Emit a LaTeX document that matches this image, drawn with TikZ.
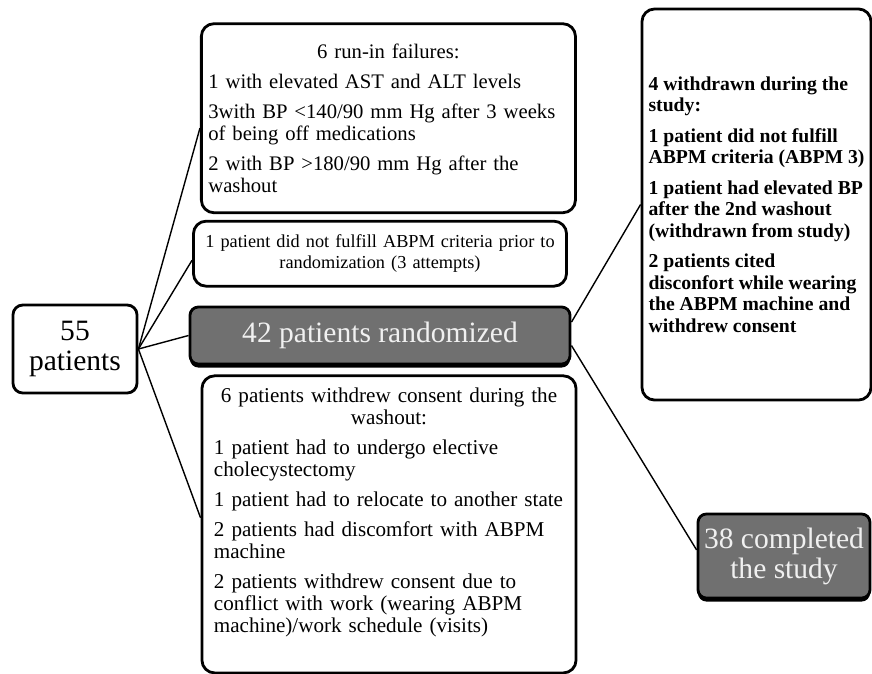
\documentclass[tikz,border=0pt]{standalone}
\usepackage{fontspec}
\setmainfont{Liberation Serif}
\usepackage{xcolor}
\usepackage{tikz}
\usetikzlibrary{positioning, shadows}
\definecolor{boxgrey}{RGB}{112,112,112}
\definecolor{paletext}{RGB}{240,240,240}
\tikzstyle{outline} = [rectangle, rounded corners=9pt, draw=black, line width=2pt, fill=white, inner xsep=0.15cm]
\tikzstyle{listbox} = [outline, align=left, font=\fontsize{15}{15.5}\selectfont]
\tikzstyle{boldbox} = [outline, align=left, font=\fontsize{14}{15.3}\selectfont\bfseries]
\tikzstyle{greybox} = [outline, rounded corners=6pt, fill=boxgrey, text=paletext, align=center, font=\fontsize{21}{21.3}\selectfont, drop shadow={shadow xshift=0pt, shadow yshift=-2.5pt, fill=black, opacity=1}]
\tikzstyle{link} = [draw, line width=1pt]

\begin{document}
\begin{tikzpicture}[x=0.025cm, y=-0.025cm, node distance=0.45cm]
  \useasboundingbox (0,0) rectangle (872,673);
  \node (patients) [outline, rounded corners=7pt, align=center, font=\fontsize{21}{21.3}\selectfont, minimum width=3.1cm, minimum height=2.2cm] at (75,349) {55\\patients};
  \node (randomized) [greybox, minimum width=9.5cm, minimum height=1.425cm] at (380,335.5) {42 patients randomized};
  \node (criteria) [outline, align=center, font=\fontsize{13}{14.5}\selectfont, text width=9.0cm, minimum width=9.325cm, minimum height=1.625cm, above=0.45cm of randomized] {1 patient did not fulfill ABPM criteria prior to\\randomization (3 attempts)};
  \node (runin) [listbox, font=\fontsize{14.7}{15.5}\selectfont, text width=9.0cm, minimum width=9.35cm, minimum height=4.725cm, above=0.14cm of criteria, xshift=0.21cm] {\noindent\makebox[\hsize]{6 run-in failures:}\\[6pt]
    1 with elevated AST and ALT levels\\[6pt]
    3with BP <140/90 mm Hg after 3 weeks\\
    of being off medications\\[6pt]
    2 with BP >180/90 mm Hg after the\\
    washout};
  \node (washout) [listbox, text width=8.75cm, inner xsep=0.3cm, minimum width=9.35cm, minimum height=7.425cm, below=0.225cm of randomized, xshift=0.225cm] {\noindent\makebox[\hsize]{6 patients withdrew consent during the}\\
    \makebox[\hsize]{washout:}\\[6pt]
    1 patient had to undergo elective\\
    cholecystectomy\\[6pt]
    1 patient had to relocate to another state\\[6pt]
    2 patients had discomfort with ABPM\\
    machine\\[6pt]
    2 patients withdrew consent due to\\
    conflict with work (wearing ABPM\\
    machine)/work schedule (visits)\\[4.5pt]\mbox{}};
  \node (withdrawn) [boldbox, inner xsep=0.1cm, minimum width=5.725cm, minimum height=9.775cm] at (756.5,204.5) {4 withdrawn during the\\
    study:\\[6.4pt]
    1 patient did not fulfill\\
    ABPM criteria (ABPM 3)\\[6.4pt]
    1 patient had elevated BP\\
    after the 2nd washout\\
    (withdrawn from study)\\[6.4pt]
    2 patients cited\\
    disconfort while wearing\\
    the ABPM machine and\\
    withdrew consent};
  \node (completed) [greybox, minimum width=4.3cm, minimum height=2.1cm] at (784,556) {38 completed\\the study};

  % fan out of the 55 patients
  \foreach \target in {runin.183, criteria.182, randomized.west, washout.178}
    \draw[link] (patients.east) -- (\target);
  \draw[link] (randomized.4) -- (withdrawn.west);
  \draw[link] (randomized.357) -- (completed.176);
\end{tikzpicture}
\end{document}
